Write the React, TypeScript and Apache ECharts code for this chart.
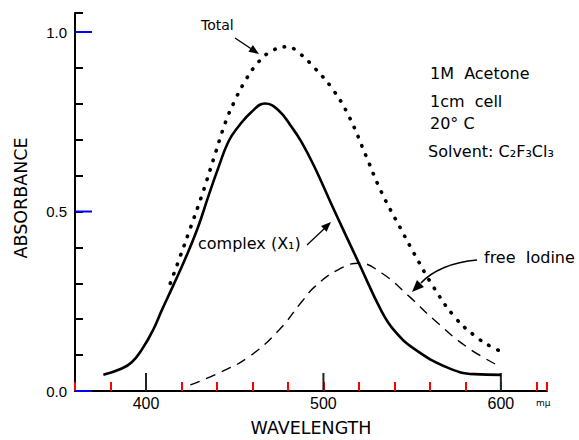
import React, { useEffect, useRef } from "react";
import * as echarts from "echarts";

const complexX1: [number, number][] = [
  [376, 0.045], [386, 0.062], [392, 0.08], [398, 0.118], [404, 0.17], [409, 0.226],
  [415, 0.29], [422, 0.367], [429, 0.452], [435, 0.54], [441, 0.625], [446.5, 0.695],
  [452, 0.736], [459.6, 0.778], [467, 0.801], [474.5, 0.783], [482, 0.736], [487.6, 0.694],
  [495, 0.624], [506, 0.504], [520, 0.356], [533, 0.22], [540, 0.168], [551, 0.118],
  [570, 0.065], [585, 0.047], [600, 0.045],
];

const freeIodine: [number, number][] = [
  [425, 0.017], [441, 0.05], [458, 0.095], [475, 0.17], [488, 0.25], [495, 0.29],
  [508, 0.337], [520, 0.356], [533, 0.328], [548, 0.265], [562, 0.2], [581, 0.122],
  [600, 0.067],
];

const total: [number, number][] = [
  [413.7, 0.30], [419.3, 0.375], [424, 0.44], [431.5, 0.545], [438, 0.645], [444.9, 0.75],
  [449.8, 0.806], [454.9, 0.855], [462, 0.908], [469.8, 0.944], [479.8, 0.959], [485.2, 0.946],
  [495, 0.90], [505.6, 0.838], [514.6, 0.763], [524, 0.655], [532.6, 0.555], [544, 0.448],
  [551, 0.384], [562, 0.29], [574, 0.206], [585, 0.155], [595, 0.122], [601, 0.109],
];

const xMajorTicks = [400, 500, 600];
const yMajorTicks = [0, 0.5, 1.0];

const X_MIN = 360;
const X_MAX = 626;
const X_STEP = 20;
const Y_MIN = 0;
const Y_MAX = 1.053;
const Y_STEP = 0.1;

const FONT = "DejaVu Sans";

function arrowHead(tip: [number, number], from: [number, number], len: number, half: number) {
  const dx = tip[0] - from[0];
  const dy = tip[1] - from[1];
  const l = Math.sqrt(dx * dx + dy * dy);
  const ux = dx / l, uy = dy / l;
  const bx = tip[0] - ux * len, by = tip[1] - uy * len;
  const nx = -uy * half, ny = ux * half;
  return [tip, [bx + nx, by + ny], [bx - nx, by - ny]];
}

export default function App() {
  const ref = useRef<HTMLDivElement>(null);
  useEffect(() => {
    document.body.style.margin = "0";
    if (!ref.current) return;
    const chart = echarts.init(ref.current, null, { renderer: "svg" });
    const black = "#000";
    const textStyle = (size: number) => ({ fill: black, font: `${size}px "${FONT}"` });
    chart.setOption({
      animation: false,
      grid: { left: 75, right: 32, top: 13, bottom: 49 },
      xAxis: {
        type: "value",
        min: X_MIN,
        max: X_MAX,
        interval: X_STEP,
        axisLine: { show: true, lineStyle: { color: black, width: 2 } },
        axisTick: { show: true, inside: true, length: 9, lineStyle: { color: "red", width: 2 } },
        axisLabel: {
          fontSize: 16,
          color: black,
          margin: 4,
          formatter: (v: number) => (xMajorTicks.includes(Math.round(v)) ? String(Math.round(v)) : ""),
        },
        splitLine: { show: false },
      },
      yAxis: {
        type: "value",
        min: Y_MIN,
        max: Y_MAX,
        interval: Y_STEP,
        axisLine: { show: true, lineStyle: { color: black, width: 2 } },
        axisTick: { show: true, inside: true, length: 8, lineStyle: { color: "#000", width: 2 } },
        axisLabel: {
          fontSize: 15,
          color: black,
          margin: 8,
          formatter: (v: number) => {
            const r = Math.round(v * 10) / 10;
            return yMajorTicks.some((m) => Math.abs(m - r) < 1e-6) ? r.toFixed(1) : "";
          },
        },
        splitLine: { show: false },
      },
      series: [
        {
          type: "custom",
          clip: false,
          data: xMajorTicks.map((v) => [v, Y_MIN]),
          renderItem: (_p: any, api: any) => {
            const p = api.coord([api.value(0), api.value(1)]);
            return {
              type: "line",
              shape: { x1: p[0], y1: p[1], x2: p[0], y2: p[1] - 18 },
              style: { stroke: "#222", lineWidth: 2 },
            };
          },
        },
        {
          type: "custom",
          clip: false,
          data: yMajorTicks.map((v) => [X_MIN, v]),
          renderItem: (_p: any, api: any) => {
            const p = api.coord([api.value(0), api.value(1)]);
            return {
              type: "line",
              shape: { x1: p[0], y1: p[1], x2: p[0] + 17, y2: p[1] },
              style: { stroke: "blue", lineWidth: 2 },
            };
          },
        },
        {
          name: "complex (X1)",
          type: "line",
          data: complexX1,
          showSymbol: false,
          smooth: 0.45,
          lineStyle: { color: black, width: 2.6 },
        },
        {
          name: "free Iodine",
          type: "line",
          data: freeIodine,
          showSymbol: false,
          smooth: 0.45,
          lineStyle: { color: black, width: 1.4, type: [10, 7] },
        },
        {
          name: "Total",
          type: "line",
          data: total,
          showSymbol: false,
          smooth: 0.45,
          lineStyle: { color: black, width: 3.6, type: [0.5, 9.5], cap: "round" },
        },
      ],
      graphic: [
        { type: "text", x: 21, y: 198, rotation: Math.PI / 2, style: { ...textStyle(17.5), text: "ABSORBANCE", textAlign: "center", textVerticalAlign: "middle" } },
        { type: "text", x: 311, y: 428, style: { ...textStyle(17.5), text: "WAVELENGTH", textAlign: "center", textVerticalAlign: "middle" } },

        { type: "text", x: 201, y: 25, style: { ...textStyle(14), text: "Total", textVerticalAlign: "middle" } },
        { type: "line", shape: { x1: 235, y1: 38, x2: 253, y2: 50 }, style: { stroke: black, lineWidth: 1.3 } },
        { type: "polygon", shape: { points: arrowHead([259, 54], [235, 38], 10, 4) }, style: { fill: black } },

        { type: "text", x: 430, y: 73, style: { ...textStyle(16), text: "1M  Acetone", textVerticalAlign: "middle" } },
        { type: "text", x: 430, y: 101, style: { ...textStyle(16), text: "1cm  cell", textVerticalAlign: "middle" } },
        { type: "text", x: 430, y: 123, style: { ...textStyle(16), text: "20° C", textVerticalAlign: "middle" } },
        { type: "text", x: 428, y: 151, style: { ...textStyle(16), text: "Solvent: C₂F₃Cl₃", textVerticalAlign: "middle" } },

        { type: "text", x: 198, y: 243, style: { ...textStyle(16), text: "complex (X₁)", textVerticalAlign: "middle" } },
        { type: "line", shape: { x1: 307, y1: 245, x2: 325, y2: 228 }, style: { stroke: black, lineWidth: 1.3 } },
        { type: "polygon", shape: { points: arrowHead([331, 222], [307, 245], 10, 4) }, style: { fill: black } },

        { type: "text", x: 484, y: 257, style: { ...textStyle(16), text: "free  Iodine", textVerticalAlign: "middle" } },
        {
          type: "bezierCurve",
          shape: { x1: 477, y1: 260, cpx1: 452, cpy1: 262, cpx2: 432, cpy2: 271, x2: 421, y2: 283 },
          style: { stroke: black, lineWidth: 1.6, fill: "none" },
        },
        { type: "polygon", shape: { points: arrowHead([412, 292], [422, 282], 12, 5) }, style: { fill: black } },

        { type: "text", x: 536, y: 403, style: { ...textStyle(9), text: "mμ", textVerticalAlign: "middle" } },
      ],
    });
    return () => chart.dispose();
  }, []);
  return <div ref={ref} style={{ width: 579, height: 440 }} />;
}
